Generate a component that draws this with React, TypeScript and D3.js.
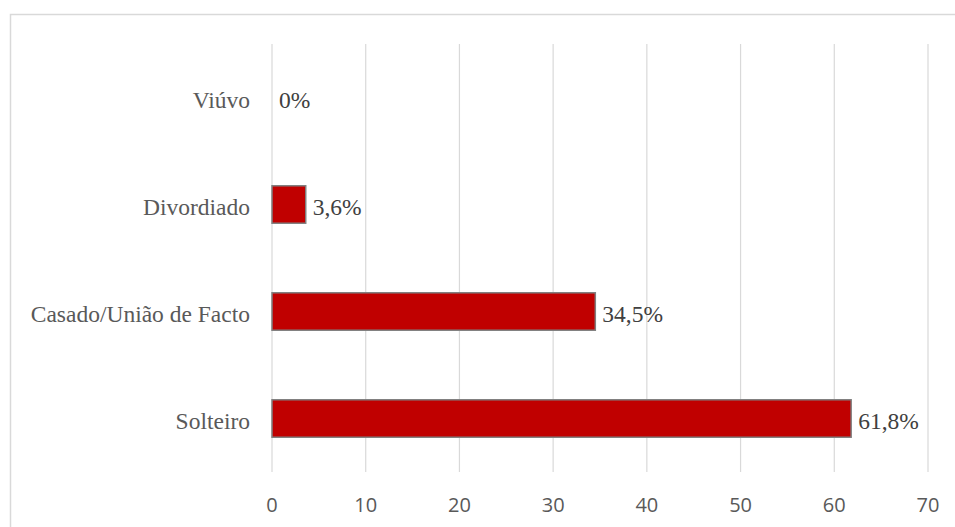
import React from "react";
import * as d3 from "d3";

const categories = ["Viúvo", "Divordiado", "Casado/União de Facto", "Solteiro"];
const values = [0, 3.6, 34.5, 61.8];
const valueLabels = ["0%", "3,6%", "34,5%", "61,8%"];
const xTicks = [0, 10, 20, 30, 40, 50, 60, 70];

export default function App() {
  const W = 955;
  const H = 527;
  const left = 272;
  const right = 928;
  const top = 44;
  const bottom = 472;

  const x = d3.scaleLinear().domain([0, 70]).range([left, right]);
  const y = d3.scaleBand<string>().domain(categories).range([top, bottom]).paddingInner(0.65).paddingOuter(0.325);

  return (
    <svg
      width={W}
      height={H}
      style={{ position: "absolute", left: 0, top: 0, background: "#fff" }}
    >
      <rect x={0} y={0} width={W} height={H} fill="#fff" />
      <rect x={10.5} y={14.5} width={980} height={600} fill="none" stroke="#d9d9d9" strokeWidth={1.5} />
      {xTicks.map((t) => (
        <line key={"g" + t} x1={x(t)} x2={x(t)} y1={top} y2={bottom} stroke="#d9d9d9" strokeWidth={1.2} />
      ))}
      {xTicks.map((t) => (
        <text
          key={"t" + t}
          x={x(t)}
          y={512}
          textAnchor="middle"
          fontFamily="'Open Sans', 'Noto Sans', sans-serif"
          fontSize={20}
          fill="#595959"
        >
          {t}
        </text>
      ))}
      {categories.map((c, i) => {
        const yy = y(c)!;
        const bh = y.bandwidth();
        const v = values[i];
        return (
          <g key={c}>
            {v > 0 && (
              <rect
                x={x(0)}
                y={yy}
                width={x(v) - x(0)}
                height={bh}
                fill="#C00000"
                stroke="#7f7f7f"
                strokeWidth={1.5}
              />
            )}
            <text
              x={250}
              y={yy + bh / 2}
              dy="0.44em"
              textAnchor="end"
              fontFamily="'Liberation Serif', 'Times New Roman', serif"
              fontSize={23.5}
              fill="#595959"
            >
              {c}
            </text>
            <text
              x={x(v) + 7}
              y={yy + bh / 2}
              dy="0.44em"
              textAnchor="start"
              fontFamily="'Liberation Serif', 'Times New Roman', serif"
              fontSize={23.5}
              fill="#404040"
            >
              {valueLabels[i]}
            </text>
          </g>
        );
      })}
    </svg>
  );
}
